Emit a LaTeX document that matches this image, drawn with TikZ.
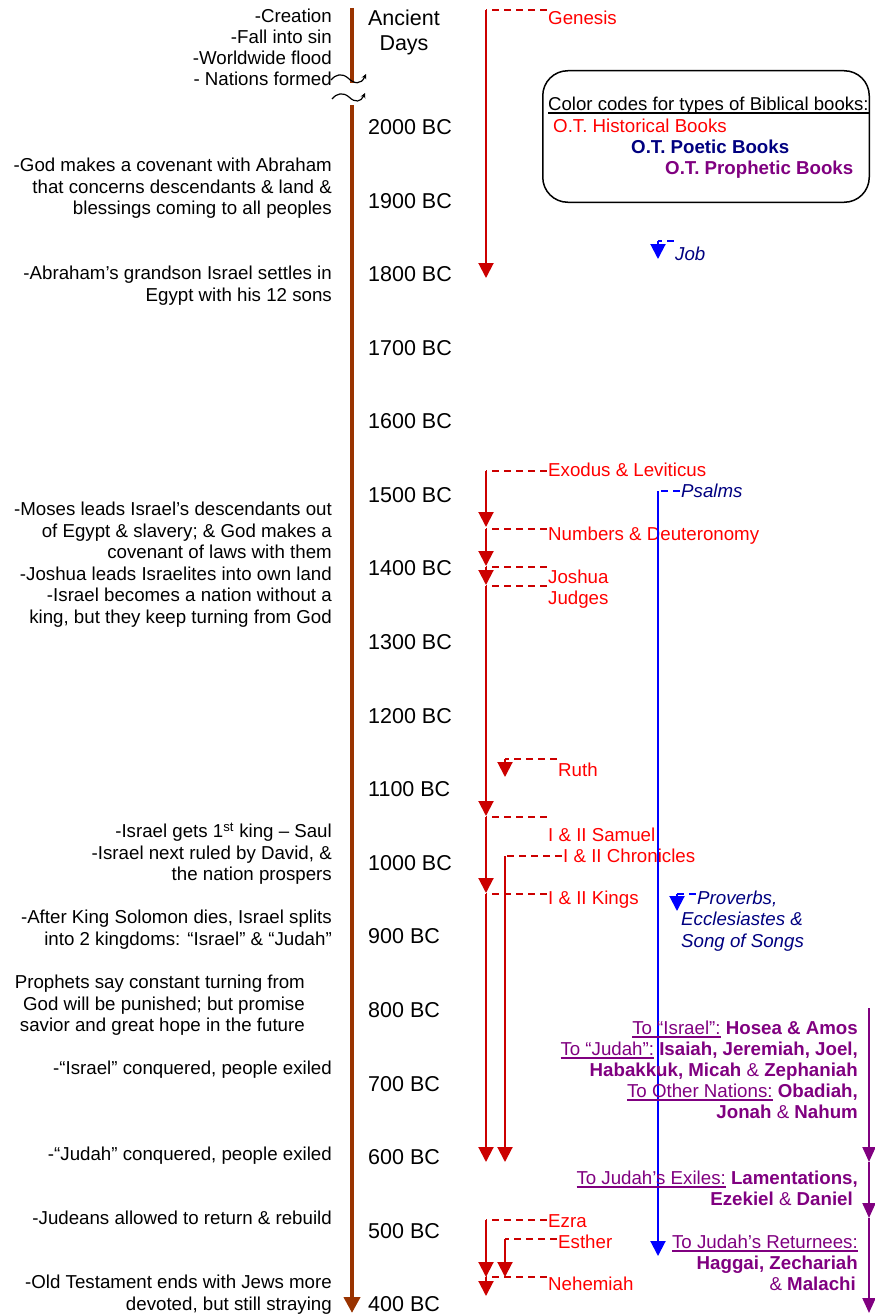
\documentclass[tikz,border=0pt]{standalone}
\usepackage{fontspec}
\setmainfont{Liberation Sans}
\usetikzlibrary{arrows.meta,calc}
\definecolor{tlbrown}{RGB}{153,51,0}
\definecolor{hred}{RGB}{204,0,0}
\definecolor{hlabel}{RGB}{255,0,0}
\definecolor{pblue}{RGB}{0,0,255}
\definecolor{pnavy}{RGB}{0,0,128}
\definecolor{prop}{RGB}{128,0,128}
\newsavebox\ulbox
\newcommand\myul[1]{\sbox\ulbox{#1}\rlap{\rule[-3pt]{\wd\ulbox}{1.4pt}}\usebox\ulbox}
\newcommand\txtfont{\fontsize{18.7}{21.5}\selectfont}
\tikzset{
  lt/.style={font=\txtfont, align=right, anchor=north east, inner sep=0pt},
  yr/.style={font=\fontsize{21.5}{25}\selectfont, anchor=base west, inner sep=0pt},
  hist/.style={font=\txtfont, text=hlabel, anchor=base west, inner sep=1.5pt},
  poet/.style={font=\txtfont\itshape, text=pnavy, anchor=base west, inner sep=1.5pt},
  proph/.style={font=\fontsize{18.7}{21}\selectfont, text=prop, align=right, anchor=north east, inner sep=0pt},
  hdash/.style={draw=hred, line width=2pt, dash pattern=on 7pt off 5pt},
  harrow/.style={draw=hred, line width=2pt, -{Triangle[width=15pt,length=15pt]}},
  pdash/.style={draw=pblue, line width=2pt, dash pattern=on 7pt off 5pt},
  parrow/.style={draw=pblue, line width=2pt, -{Triangle[width=15pt,length=15pt]}},
  prarrow/.style={draw=prop, line width=2pt, -{Triangle[width=13pt,length=15pt]}},
  tline/.style={draw=tlbrown, line width=4pt},
  brk/.style={draw=black, line width=1.2pt, -{Stealth[length=5pt,width=5pt]}},
}
\begin{document}
\begin{tikzpicture}[x=1pt,y=-1pt]
\useasboundingbox (0,0) rectangle (875,1314);

% ---------- main timeline ----------
\coordinate (br0) at (352,8);
\coordinate (br1) at (352,83);
\coordinate (br2) at (352,105);
\coordinate (br3) at (352,1313);
\draw[tline] (br0) -- (br1);
\draw[tline, -{Triangle[width=16pt,length=16pt]}] (br2) -- (br3);
\draw[brk] (331,80) .. controls (336,74) and (342,73) .. (348,78) .. controls (354,84) and (361,85) .. (366,74);
\draw[brk] (332,99) .. controls (337,93) and (343,92) .. (349,97) .. controls (355,103) and (361,102) .. (365,93);

% ---------- years ----------
\node[font=\fontsize{21.5}{25}\selectfont, align=center, anchor=north, inner sep=0pt] (ancient) at (404,9.5) {Ancient\\Days};
\foreach \yr [count=\i from 0] in {2000,1900,...,400}{
  \node[yr] (y\yr) at (368,{127+73.58*\i+7.5}) {\yr\ BC};
}

% ---------- left events ----------
\node[lt, font=\fontsize{18.7}{21}\selectfont] (evA) at (332,9) {-Creation\\-Fall into sin\\-Worldwide flood\\- Nations formed};
\node[lt] (evB) at (332,158) {-God makes a covenant with Abraham\\that concerns descendants \& land \&\\blessings coming to all peoples};
\node[lt] (evC) at (332,266) {-Abraham’s grandson Israel settles in\\Egypt with his 12 sons};
\node[lt] (evD) at (332,502) {-Moses leads Israel’s descendants out\\of Egypt \& slavery; \& God makes a\\covenant of laws with them\\-Joshua leads Israelites into own land\\-Israel becomes a nation without a\\king, but they keep turning from God};
\node[lt] (evE) at (332,823) {-Israel gets 1\textsuperscript{st} king – Saul\\-Israel next ruled by David, \&\\the nation prospers};
\node[lt] (evF) at (332,910) {-After King Solomon dies, Israel splits\\into 2 kingdoms: “Israel” \& “Judah”};
\node[lt] (evG) at (305,975) {Prophets say constant turning from\\God will be punished; but promise\\savior and great hope in the future};
\node[lt] (evH) at (332,1061) {-“Israel” conquered, people exiled};
\node[lt] (evI) at (332,1147) {-“Judah” conquered, people exiled};
\node[lt] (evJ) at (332,1211) {-Judeans allowed to return \& rebuild};
\node[lt] (evK) at (332,1275) {-Old Testament ends with Jews more\\devoted, but still straying};

% ---------- legend ----------
\node[draw, line width=1.5pt, rounded corners=25pt, minimum width=326.5pt, minimum height=131.5pt, inner sep=0pt] (legend) at (706,136.5) {};
\node[font=\fontsize{18.6}{21.5}\selectfont, anchor=base west, inner sep=0pt] (lgT) at (548,110.5) {\myul{Color codes for types of Biblical books:}};
\node[font=\txtfont, text=hlabel, anchor=base west, inner sep=0pt] (lgH) at (553,132.5) {O.T. Historical Books};
\node[font=\txtfont\bfseries, text=pnavy, anchor=base west, inner sep=0pt] (lgP) at (631,153.5) {O.T. Poetic Books};
\node[font=\txtfont\bfseries, text=prop, anchor=base west, inner sep=0pt] (lgR) at (665,174.5) {O.T. Prophetic Books};

% ---------- historical books ----------
\node[hist] (genesis)  at (546.5,24.5)  {Genesis};
\node[hist] (exodus)   at (546.5,476.5) {Exodus \& Leviticus};
\node[hist] (numbers)  at (546.5,540.5) {Numbers \& Deuteronomy};
\node[hist] (joshua)   at (546.5,583.5) {Joshua};
\node[hist] (judges)   at (546.5,604.5) {Judges};
\node[hist] (ruth)     at (556.5,776.5) {Ruth};
\node[hist] (samuel)   at (546.5,841.5) {I \& II Samuel};
\node[hist] (chron)    at (561.5,862.5) {I \& II Chronicles};
\node[hist] (kings)    at (546.5,904.5) {I \& II Kings};
\node[hist] (ezra)     at (546.5,1227.5) {Ezra};
\node[hist] (esther)   at (556.5,1248.5) {Esther};
\node[hist] (nehemiah) at (546.5,1290.5) {Nehemiah};

\coordinate (gc) at (486,10);   \coordinate (gt) at (486,278);
\coordinate (xc) at (486,471);  \coordinate (xt) at (486,527);
\coordinate (nc) at (486,529);  \coordinate (nt) at (486,566);
\coordinate (jc) at (486,567);  \coordinate (jt) at (486,585);
\coordinate (dc) at (486,586);  \coordinate (dt) at (486,816);
\coordinate (rc) at (505,759);  \coordinate (rt) at (505,777);
\coordinate (sc) at (486,817);  \coordinate (st) at (486,893);
\coordinate (cc) at (505,856);  \coordinate (ct) at (505,1162);
\coordinate (kc) at (486,894);  \coordinate (kt) at (486,1162);
\coordinate (ec) at (486,1220); \coordinate (et) at (486,1277);
\coordinate (hc) at (505,1239); \coordinate (ht) at (505,1277);
\coordinate (mc) at (486,1277); \coordinate (mt) at (486,1296);

\foreach \n/\c/\t in {genesis/gc/gt, exodus/xc/xt, numbers/nc/nt, joshua/jc/jt, judges/dc/dt,
                      ruth/rc/rt, samuel/sc/st, chron/cc/ct, kings/kc/kt, ezra/ec/et,
                      esther/hc/ht, nehemiah/mc/mt}{
  \draw[hdash] (\n.west |- \c) -- (\c);
  \draw[harrow] (\c) -- (\t);
}

% ---------- poetic books ----------
\node[poet] (job)    at (673.5,260.5) {Job};
\node[poet] (psalms) at (679.5,497.5) {Psalms};
\node[poet] (prov)   at (695.5,904.5) {Proverbs,};
\node[poet, anchor=north west, align=left, inner sep=0pt] (prov2) at (681,912) {Ecclesiastes \&\\Song of Songs};

\coordinate (jbc) at (658,241); \coordinate (jbt) at (658,259);
\coordinate (psc) at (658,491); \coordinate (pst) at (658,1256);
\coordinate (pvc) at (677,894); \coordinate (pvt) at (677,911);
\foreach \n/\c/\t in {job/jbc/jbt, psalms/psc/pst, prov/pvc/pvt}{
  \draw[pdash] (\n.west |- \c) -- (\c);
  \draw[parrow] (\c) -- (\t);
}

% ---------- prophetic books ----------
\node[proph] (pro1) at (858,1021) {\myul{To “Israel”:} \textbf{Hosea \& Amos}\\
  \myul{To “Judah”:} \textbf{Isaiah, Jeremiah, Joel,}\\
  \textbf{Habakkuk, Micah} \& \textbf{Zephaniah}\\
  \myul{To Other Nations:} \textbf{Obadiah,}\\
  \textbf{Jonah} \& \textbf{Nahum}};
\node[proph] (pro2) at (858,1171) {\myul{To Judah’s Exiles:} \textbf{Lamentations,}\\
  \textbf{Ezekiel} \& \textbf{Daniel}\hspace*{5pt}};
\node[proph] (pro3) at (858,1235) {\myul{To Judah’s Returnees:}\\
  \textbf{Haggai, Zechariah}\\
  \& \textbf{Malachi}\hspace*{2pt}};

\coordinate (pp0) at (869,1008);
\coordinate (pp1) at (869,1162);
\coordinate (pp2) at (869,1218);
\coordinate (pp3) at (869,1313);
\draw[prarrow] (pp0) -- (pp1);
\draw[prarrow] (pp1) -- (pp2);
\draw[prarrow] (pp2) -- (pp3);
\end{tikzpicture}
\end{document}
